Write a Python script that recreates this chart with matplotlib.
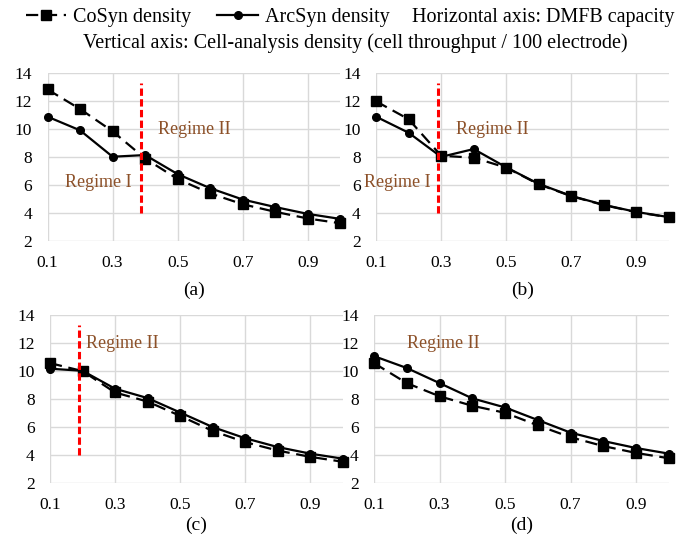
import matplotlib
matplotlib.use("Agg")
import matplotlib.pyplot as plt
from matplotlib.lines import Line2D

plt.rcParams["font.family"] = ["Liberation Serif", "DejaVu Serif"]

capacity = [0.1, 0.2, 0.3, 0.4, 0.5, 0.6, 0.7, 0.8, 0.9, 1.0]

cosyn_a = [12.85, 11.45, 9.85, 7.9, 6.43, 5.4, 4.62, 4.08, 3.6, 3.26]
arcsyn_a = [10.9, 9.92, 8.03, 8.15, 6.78, 5.77, 4.96, 4.42, 3.93, 3.57]

cosyn_b = [12.0, 10.72, 8.1, 7.96, 7.25, 6.05, 5.2, 4.56, 4.05, 3.69]
arcsyn_b = [10.9, 9.75, 8.02, 8.58, 7.27, 6.08, 5.22, 4.58, 4.07, 3.7]

cosyn_c = [10.55, 9.98, 8.45, 7.8, 6.78, 5.7, 4.9, 4.3, 3.85, 3.5]
arcsyn_c = [10.15, 10.0, 8.72, 8.05, 7.02, 5.98, 5.18, 4.55, 4.08, 3.72]

cosyn_d = [10.55, 9.12, 8.18, 7.5, 7.0, 6.1, 5.25, 4.62, 4.13, 3.75]
arcsyn_d = [11.05, 10.2, 9.12, 8.03, 7.38, 6.48, 5.58, 4.98, 4.48, 4.08]

x_ticks = [0.1, 0.3, 0.5, 0.7, 0.9]
y_ticks = [2, 4, 6, 8, 10, 12, 14]

# label, series, regime boundary x, regime labels (text, x, y)
panels = [
    ("(a)", cosyn_a, arcsyn_a, 0.386, [("Regime I", 0.257, 6.2), ("Regime II", 0.552, 9.95)]),
    ("(b)", cosyn_b, arcsyn_b, 0.291, [("Regime I", 0.165, 6.2), ("Regime II", 0.458, 9.95)]),
    ("(c)", cosyn_c, arcsyn_c, 0.19, [("Regime II", 0.323, 11.95)]),
    ("(d)", cosyn_d, arcsyn_d, None, [("Regime II", 0.311, 11.95)]),
]

boxes = [
    [0.068, 0.554, 0.419, 0.310],
    [0.538, 0.554, 0.419, 0.310],
    [0.0715, 0.106, 0.419, 0.311],
    [0.535, 0.106, 0.422, 0.311],
]
label_pads = [8, 8, 3, 3]

regime_color = "#8C5028"

fig = plt.figure(figsize=(6.99, 5.40), dpi=100)

for (label, cosyn, arcsyn, boundary, texts), box, lp in zip(panels, boxes, label_pads):
    ax = fig.add_axes(box)
    ax.plot(capacity, arcsyn, color="black", linewidth=1.6, marker="o",
            markersize=5.5, zorder=3, clip_on=False)
    ax.plot(capacity, cosyn, color="black", linewidth=1.6, marker="s",
            markersize=6.8, dashes=(5.5, 3), zorder=4, clip_on=False)
    if boundary is not None:
        ax.plot([boundary, boundary], [4, 13.3], color="red", linewidth=2.2,
                dashes=(2.4, 1.1), zorder=5)
    for t, tx, ty in texts:
        ax.text(tx, ty, t, color=regime_color, fontsize=13, ha="center",
                va="center", zorder=6)
    ax.set_xlim(0.1, 1.0)
    ax.set_ylim(2, 14)
    ax.set_xticks(x_ticks)
    ax.set_xticklabels([f"{v:.1f}" for v in x_ticks])
    ax.set_yticks(y_ticks)
    ax.grid(True, color="#d9d9d9", linewidth=1.0)
    ax.set_axisbelow(True)
    for s in ax.spines.values():
        s.set_visible(False)
    ax.tick_params(axis="x", length=0, labelsize=12.5, pad=10)
    ax.tick_params(axis="y", length=0, labelsize=12.5, pad=11)
    ax.set_xlabel(label, fontsize=14, labelpad=lp)

handles = [
    Line2D([], [], color="black", linewidth=1.6, marker="s", markersize=6.8, dashes=(5.5, 3)),
    Line2D([], [], color="black", linewidth=1.6, marker="o", markersize=5.5),
]
fig.legend(handles, ["CoSyn density", "ArcSyn density"], loc="center left",
           bbox_to_anchor=(0.037, 0.968), ncol=2, frameon=False, fontsize=14.5,
           handlelength=2.0, handletextpad=0.35, columnspacing=1.3,
           borderpad=0, borderaxespad=0)
fig.text(0.589, 0.968, "Horizontal axis: DMFB capacity", fontsize=14.5,
         ha="left", va="center")
fig.text(0.509, 0.920, "Vertical axis: Cell-analysis density (cell throughput / 100 electrode)",
         fontsize=14.5, ha="center", va="center")

fig.savefig("out.png", dpi=100)
